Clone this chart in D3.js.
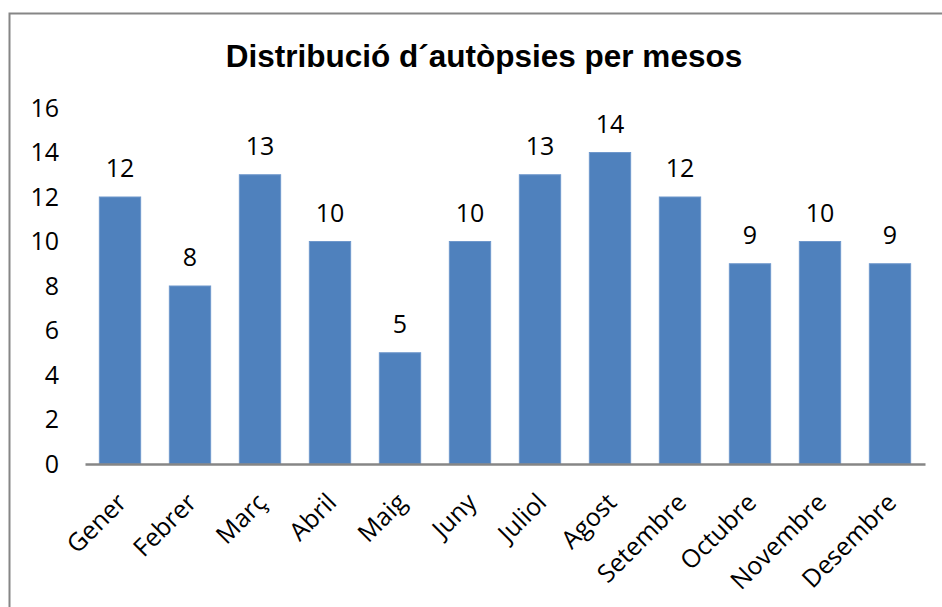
<!DOCTYPE html>
<html>
<head>
<meta charset="utf-8">
<script src="https://cdn.jsdelivr.net/npm/d3@7"></script>
<style>
  body { margin: 0; background: #fff; }
  svg { display: block; }
</style>
</head>
<body>
<div id="chart"></div>
<script>
const months = ['Gener', 'Febrer', 'Març', 'Abril', 'Maig', 'Juny', 'Juliol', 'Agost', 'Setembre', 'Octubre', 'Novembre', 'Desembre'];
const autopsies = [12, 8, 13, 10, 5, 10, 13, 14, 12, 9, 10, 9];
const yTicks = [0, 2, 4, 6, 8, 10, 12, 14, 16];
const title = 'Distribució d´autòpsies per mesos';

const width = 942;
const height = 607;
const labelFont = '"Open Sans", sans-serif';

const svg = d3.select('#chart')
	.append('svg')
	.attr('width', width)
	.attr('height', height);

// frame of the chart area (runs off the page on the right and bottom)
svg.append('rect')
	.attr('x', 9.5)
	.attr('y', 13.5)
	.attr('width', 1000)
	.attr('height', 1000)
	.attr('fill', '#fff')
	.attr('stroke', '#868686')
	.attr('stroke-width', 2);

svg.append('text')
	.attr('x', 484)
	.attr('y', 67)
	.attr('text-anchor', 'middle')
	.style('font-family', '"Liberation Sans", Arial, sans-serif')
	.style('font-weight', 'bold')
	.style('font-size', '31.5px')
	.text(title);

const x = d3.scaleBand()
	.domain(months)
	.range([85, 925])
	.paddingInner(0.41)
	.paddingOuter(0.205);

const y = d3.scaleLinear()
	.domain([0, 16])
	.range([464, 108]);

// y axis: labels only
const yAxis = svg.append('g')
	.attr('transform', 'translate(59,0)')
	.call(d3.axisLeft(y).tickValues(yTicks).tickSize(0).tickPadding(0));
yAxis.select('.domain').remove();
yAxis.selectAll('text')
	.style('font-family', labelFont)
	.style('font-size', '25px')
	.attr('fill', '#000');

// bars
svg.append('g')
	.selectAll('rect')
	.data(autopsies)
	.join('rect')
	.attr('x', (d, i) => x(months[i]))
	.attr('y', d => y(d))
	.attr('width', x.bandwidth())
	.attr('height', d => y(0) - y(d))
	.attr('fill', '#4F81BD')
	.attr('stroke', '#6f98cc')
	.attr('stroke-width', 1);

// value labels
svg.append('g')
	.selectAll('text')
	.data(autopsies)
	.join('text')
	.attr('x', (d, i) => x(months[i]) + x.bandwidth() / 2)
	.attr('y', d => y(d) - 20)
	.attr('text-anchor', 'middle')
	.style('font-family', labelFont)
	.style('font-size', '25px')
	.text(d => d);

// x axis
const xAxis = svg.append('g')
	.attr('transform', `translate(0,${y(0)})`)
	.call(d3.axisBottom(x).tickSize(0).tickSizeOuter(0));
xAxis.select('.domain')
	.attr('stroke', '#868686')
	.attr('stroke-width', 2.5);
xAxis.selectAll('text')
	.style('font-family', labelFont)
	.style('font-size', '25px')
	.attr('fill', '#000')
	.attr('text-anchor', 'end')
	.attr('dy', 0)
	.attr('y', 0)
	.attr('transform', 'translate(8,40) rotate(-45)');
</script>
</body>
</html>
